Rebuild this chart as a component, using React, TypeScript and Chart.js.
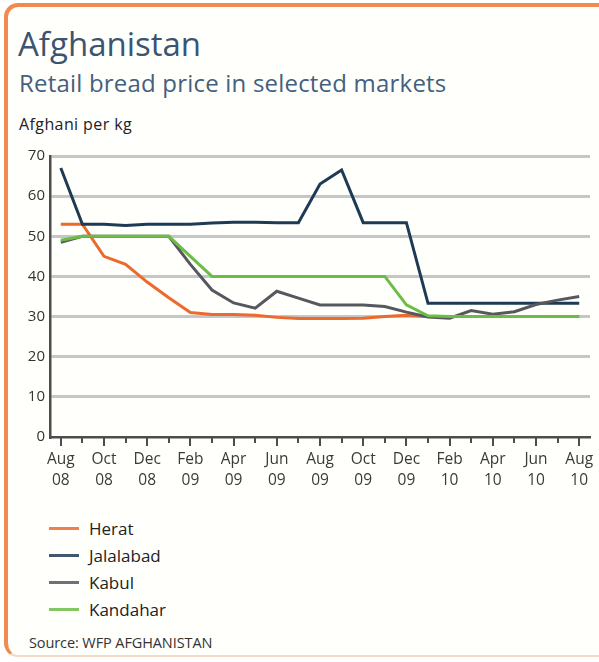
import React, { useEffect, useRef } from 'react';
import { Chart, registerables } from 'chart.js';

Chart.register(...registerables);

const categories = [
  'Aug 08', 'Sep 08', 'Oct 08', 'Nov 08', 'Dec 08',
  'Jan 09', 'Feb 09', 'Mar 09', 'Apr 09', 'May 09', 'Jun 09', 'Jul 09',
  'Aug 09', 'Sep 09', 'Oct 09', 'Nov 09', 'Dec 09',
  'Jan 10', 'Feb 10', 'Mar 10', 'Apr 10', 'May 10', 'Jun 10', 'Jul 10', 'Aug 10',
];

const herat = [53, 53, 45, 43, 38.6, 34.7, 31, 30.5, 30.5, 30.3, 29.8, 29.5, 29.5, 29.5, 29.6, 30, 30.3, 30, 30, 30, 30, 30, 30, 30, 30];
const jalalabad = [67, 53, 53, 52.7, 53, 53, 53, 53.3, 53.5, 53.5, 53.4, 53.4, 63, 66.5, 53.4, 53.4, 53.4, 33.3, 33.3, 33.3, 33.3, 33.3, 33.3, 33.3, 33.3];
const kabul = [48.5, 50, 50, 50, 50, 50, 43, 36.6, 33.4, 32.1, 36.3, 34.6, 32.9, 32.9, 32.9, 32.5, 31.1, 29.9, 29.6, 31.5, 30.6, 31.2, 33, 34.1, 35];
const kandahar = [49, 50, 50, 50, 50, 50, 45, 40, 40, 40, 40, 40, 40, 40, 40, 40, 32.9, 30.2, 30, 30, 30, 30, 30, 30, 30];

const seriesNames = ['Herat', 'Jalalabad', 'Kabul', 'Kandahar'];
const seriesValues = [herat, jalalabad, kabul, kandahar];
const seriesColors = ['#ec6a2e', '#1f3a54', '#56585e', '#6cbd46'];
const seriesOrder = [3, 2, 1, 0];

const yTicks = [0, 10, 20, 30, 40, 50, 60, 70];

const FONT = "'Open Sans', 'Noto Sans', sans-serif";

const monthTicks = {
  id: 'monthTicks',
  afterDraw(chart: any) {
    const x = chart.scales.x;
    const ctx = chart.ctx;
    const bottom = chart.chartArea.bottom;
    ctx.save();
    ctx.strokeStyle = '#4d4d4d';
    ctx.lineWidth = 2;
    for (let i = 0; i < categories.length; i++) {
      const px = Math.round(x.getPixelForTick(i));
      const len = i % 2 === 0 ? 9 : 6;
      ctx.beginPath();
      ctx.moveTo(px, bottom);
      ctx.lineTo(px, bottom + len);
      ctx.stroke();
    }
    ctx.restore();
  },
};

function LineChart() {
  const ref = useRef<HTMLCanvasElement | null>(null);
  useEffect(() => {
    if (!ref.current) return;
    const chart = new Chart(ref.current, {
      type: 'line',
      data: {
        labels: categories,
        datasets: seriesNames.map((name, i) => ({
          label: name,
          data: seriesValues[i],
          borderColor: seriesColors[i],
          backgroundColor: seriesColors[i],
          borderWidth: 3,
          pointRadius: 0,
          tension: 0,
          fill: false,
          order: seriesOrder[i],
        })),
      },
      options: {
        animation: false,
        responsive: false,
        maintainAspectRatio: false,
        layout: { padding: { top: 16, right: 9, left: 0, bottom: 0 } },
        plugins: { legend: { display: false }, tooltip: { enabled: false }, title: { display: false } },
        scales: {
          x: {
            type: 'category',
            offset: true,
            grid: {
              display: true,
              drawOnChartArea: false,
              drawTicks: true,
              tickLength: 8,
              tickColor: 'rgba(0,0,0,0)',
              offset: false,
            },
            border: { display: true, color: '#4d4d4d', width: 2.5 },
            ticks: {
              autoSkip: false,
              maxRotation: 0,
              minRotation: 0,
              padding: 5,
              color: '#3a3a3a',
              font: { family: FONT, size: 15.5, lineHeight: 1.3 },
              callback: (_v: any, i: number) => (i % 2 === 0 ? categories[i].split(' ') : ''),
            },
            afterFit: (s: any) => {
              s.height = 63;
            },
          },
          y: {
            min: yTicks[0],
            max: yTicks[yTicks.length - 1],
            afterBuildTicks: (s: any) => {
              s.ticks = yTicks.map((v) => ({ value: v }));
            },
            grid: {
              drawTicks: false,
              lineWidth: 3,
              color: (c: any) => (c.tick && c.tick.value === 0 ? 'rgba(0,0,0,0)' : '#c6c6c6'),
            },
            border: { display: true, color: '#4d4d4d', width: 2.5 },
            ticks: {
              padding: 5,
              color: '#333',
              font: { family: FONT, size: 15 },
            },
            afterFit: (s: any) => {
              s.width = 50;
            },
          },
        },
      },
      plugins: [monthTicks],
    });
    return () => chart.destroy();
  }, []);
  return (
    <canvas
      ref={ref}
      width={599}
      height={360}
      style={{ position: 'absolute', left: 0, top: 140, width: 599, height: 360 }}
    />
  );
}

export default function App() {
  return (
    <div
      style={{
        position: 'absolute',
        left: 0,
        top: 0,
        width: 599,
        height: 662,
        overflow: 'hidden',
        background: '#ffffff',
        fontFamily: FONT,
      }}
    >
      <div
        style={{
          position: 'absolute',
          left: 4,
          top: 3,
          width: 680,
          height: 648,
          borderLeft: '4px solid #f2894e',
          borderTop: '4px solid #f2894e',
          borderBottom: '2px solid #f3d9c8',
          borderTopLeftRadius: 14,
          borderBottomLeftRadius: 14,
          background: '#fffffc',
        }}
      />
      <div style={{ position: 'absolute', left: 18, top: 27, fontSize: 33, lineHeight: '33px', color: '#3b5470', whiteSpace: 'nowrap' }}>
        Afghanistan
      </div>
      <div style={{ position: 'absolute', left: 19, top: 71, fontSize: 24, lineHeight: '24px', color: '#45607c', whiteSpace: 'nowrap', letterSpacing: 0.2 }}>
        Retail bread price in selected markets
      </div>
      <div style={{ position: 'absolute', left: 19, top: 116, fontSize: 16, lineHeight: '16px', color: '#222', whiteSpace: 'nowrap', letterSpacing: 0.4 }}>
        Afghani per kg
      </div>
      <LineChart />
      {seriesNames.map((name, i) => (
        <div key={name} style={{ position: 'absolute', left: 49, top: 528 + i * 27.3 - 12, height: 24, display: 'flex', alignItems: 'center' }}>
          <div style={{ width: 30, height: 3, background: seriesColors[i], opacity: 0.85 }} />
          <div style={{ marginLeft: 10, fontSize: 17, color: '#222', whiteSpace: 'nowrap' }}>{name}</div>
        </div>
      ))}
      <div style={{ position: 'absolute', left: 29, top: 634, fontSize: 14.5, lineHeight: '18px', color: '#333', whiteSpace: 'nowrap', letterSpacing: -0.1 }}>
        Source: WFP AFGHANISTAN
      </div>
    </div>
  );
}
